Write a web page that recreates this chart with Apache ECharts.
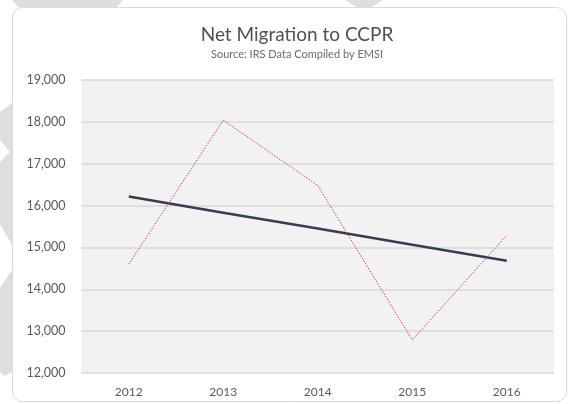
<!DOCTYPE html>
<html>
<head>
<meta charset="utf-8">
<title>Net Migration to CCPR</title>
<script src="https://cdn.jsdelivr.net/npm/echarts@6/dist/echarts.min.js"></script>
<style>
  html, body { margin: 0; padding: 0; background: #ffffff; }
  #chart { width: 569px; height: 404px; }
</style>
</head>
<body>
<div id="chart"></div>
<script>
// Years on the category axis
const years = ['2012', '2013', '2014', '2015', '2016'];
// Net migration per year
const netMigration = [14600, 18040, 16480, 12790, 15290];
// Linear trend of the net migration
const trend = [16215, 15830, 15450, 15065, 14680];
// Value axis range and step
const yMin = 12000;
const yMax = 19000;
const yStep = 1000;

const chart = echarts.init(document.getElementById('chart'), null, { renderer: 'canvas' });

const shapeFill = '#dedede';

chart.setOption({
  backgroundColor: '#ffffff',
  animation: false,
  graphic: [
    // decorative background shapes behind the card
    { type: 'polygon', z: -10, shape: { points: [[12, 0], [123, 0], [117, 7], [18, 7]] }, style: { fill: shapeFill } },
    { type: 'polygon', z: -10, shape: { points: [[345, 0], [383, 0], [372, 7], [356, 7]] }, style: { fill: shapeFill } },
    { type: 'polygon', z: -10, shape: { points: [[0, 112], [12, 103], [12, 245], [0, 224], [0, 162], [10, 152], [0, 140]] }, style: { fill: shapeFill } },
    { type: 'polygon', z: -10, shape: { points: [[0, 288], [12, 270], [12, 372], [4, 376], [0, 372]] }, style: { fill: shapeFill } },
    // white card
    {
      type: 'rect', z: -5,
      shape: { x: 12.5, y: 7.5, width: 554, height: 394, r: 10 },
      style: { fill: '#ffffff', stroke: '#d9d9d9', lineWidth: 1 }
    }
  ],
  title: {
    text: 'Net Migration to CCPR',
    subtext: 'Source: IRS Data Compiled by EMSI',
    left: 292,
    textAlign: 'center',
    top: 20,
    itemGap: 5,
    textStyle: { fontFamily: 'Lato', fontSize: 19, fontWeight: 'normal', color: '#505050' },
    subtextStyle: { fontFamily: 'Lato', fontSize: 11, color: '#6a6a6a' }
  },
  grid: {
    left: 81.5, right: 15, top: 80, bottom: 31,
    show: true, backgroundColor: '#f2f2f2', borderWidth: 0
  },
  xAxis: {
    type: 'category',
    data: years,
    boundaryGap: true,
    axisLine: { show: false },
    axisTick: { show: false },
    axisLabel: { margin: 13, color: '#595959', fontFamily: 'Lato', fontSize: 12 }
  },
  yAxis: {
    type: 'value',
    min: yMin, max: yMax, interval: yStep,
    axisLine: { show: false },
    axisTick: { show: false },
    splitLine: { lineStyle: { color: '#d9d9d9', width: 1.5 } },
    axisLabel: {
      margin: 16,
      color: '#595959', fontFamily: 'Lato', fontSize: 12.5,
      formatter: v => v.toLocaleString('en-US')
    }
  },
  series: [
    {
      name: 'Net Migration',
      type: 'line',
      data: netMigration,
      symbol: 'none',
      lineStyle: { color: '#e23a3a', width: 1, type: [1.5, 1.5] },
      z: 3
    },
    {
      name: 'Trend',
      type: 'line',
      data: trend,
      symbol: 'none',
      lineStyle: { color: '#333f50', width: 2.5 },
      z: 2
    }
  ]
});
</script>
</body>
</html>
